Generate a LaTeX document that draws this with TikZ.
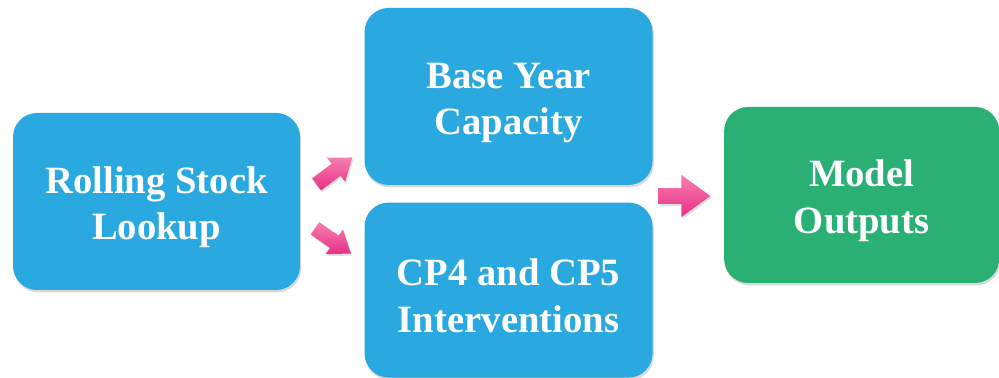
\documentclass[tikz,border=0pt]{standalone}
\usepackage{fontspec}
\setmainfont{Liberation Serif}
\usepackage{tikz}
\usetikzlibrary{shapes}
\usetikzlibrary{shapes.arrows}
\usetikzlibrary{shadows}
\usetikzlibrary{positioning}
\definecolor{stepBlue}{rgb}{0.161,0.663,0.878}
\definecolor{outGreen}{rgb}{0.165,0.690,0.459}
\definecolor{arrowTop}{rgb}{0.965,0.494,0.690}
\definecolor{arrowBottom}{rgb}{0.910,0.188,0.522}
\newcommand{\topgap}{\rule{0pt}{27pt}}
\tikzstyle{stage} = [rectangle, rounded corners=0.6cm, text=white, align=center,
    font=\fontsize{27.5}{33}\selectfont\bfseries, inner sep=0pt,
    drop shadow={opacity=0.3, shadow xshift=0.03cm, shadow yshift=-0.06cm}]
\tikzstyle{BLUE} = [stage, fill=stepBlue]
\tikzstyle{GREEN} = [stage, fill=outGreen]
\tikzstyle{flow} = [single arrow, draw=none, inner xsep=0pt, top color=arrowTop,
    bottom color=arrowBottom, drop shadow={opacity=0.25, shadow xshift=0.03cm, shadow yshift=-0.05cm}]

\begin{document}
\begin{tikzpicture}[node distance=1.6cm]
    \useasboundingbox (0,0) rectangle (24.975,9.45);
    \node [BLUE, minimum width=7.175cm, minimum height=4.425cm] (roll) at (3.9125,4.4125) {\topgap Rolling Stock\\Lookup};
    \node [BLUE, minimum width=7.2cm, minimum height=4.425cm, right=of roll, yshift=2.625cm] (base) {\topgap Base Year\\Capacity};
    \node [BLUE, minimum width=7.2cm, minimum height=4.375cm, below=0.425cm of base] (cp) {\topgap CP4 and CP5\\Interventions};
    \node [GREEN, minimum width=6.875cm, minimum height=4.4cm, right=1.775cm of base, yshift=-2.4625cm] (outputs) {\topgap Model\\Outputs};
    % block arrows between the stages
    \node [flow, inner ysep=0.18cm, minimum height=1.12cm, single arrow head extend=0.19cm,
        single arrow tip angle=73, rotate=37] (toBase) at (8.26,5.1) {};
    \node [flow, inner ysep=0.18cm, minimum height=1.1cm, single arrow head extend=0.19cm,
        single arrow tip angle=73, rotate=-35] (toCp) at (8.22,3.5) {};
    \node [flow, inner ysep=0.1875cm, minimum height=1.3cm, single arrow head extend=0.33cm,
        single arrow tip angle=72] (toOutputs) at (16.975,4.55) {};
\end{tikzpicture}
\end{document}
